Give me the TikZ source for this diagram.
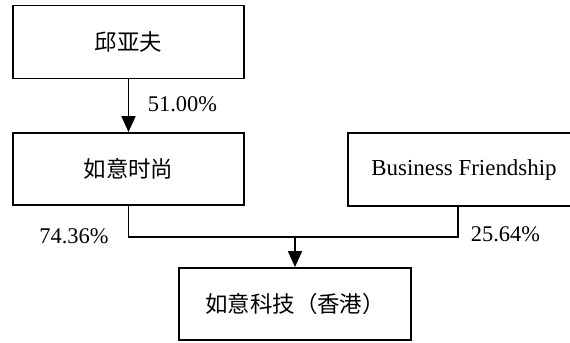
\documentclass[tikz,border=0pt]{standalone}
\usepackage{fontspec}
\setmainfont{Liberation Serif}
\newfontfamily\cjk{Noto Sans CJK SC}[Scale=0.98]
\usetikzlibrary{arrows.meta,calc}
\begin{document}
\begin{tikzpicture}[x=1bp,y=-1bp,
  box/.style={draw,line width=1.8bp,minimum width=231bp,minimum height=73bp,inner sep=0pt,font=\fontsize{23}{27}\selectfont},
  link/.style={line width=1.6bp},
  arr/.style={link,-{Triangle[width=14bp,length=16bp]}},
  pct/.style={font=\fontsize{22.5}{27}\selectfont,inner sep=0pt}]
\useasboundingbox (0,0) rectangle (570,342);
\clip (0,0) rectangle (570,342);
\node[box] (b1) at (128.5,42) {\cjk 邱亚夫};
\node[box,minimum height=72bp] (b2) at (128.5,169) {\cjk 如意时尚};
\node[box,minimum width=232bp] (b3) at (464,169.5) {Business Friendship};
\node[box,minimum width=232bp,minimum height=72bp] (b4) at (295,304) {\cjk 如意科技（香港）};
\coordinate (j) at (295,237);
\draw[arr] (b1) -- (b2);
\draw[link] (b2.south) |- (j) -| ($(b3.south)+(-6,0)$);
\draw[arr] (j) -- (b4.north);
\node[pct] (p1) at (182.5,104) {51.00\%};
\node[pct] (p2) at (74,236) {74.36\%};
\node[pct] (p3) at (505.5,234) {25.64\%};
\end{tikzpicture}
\end{document}
